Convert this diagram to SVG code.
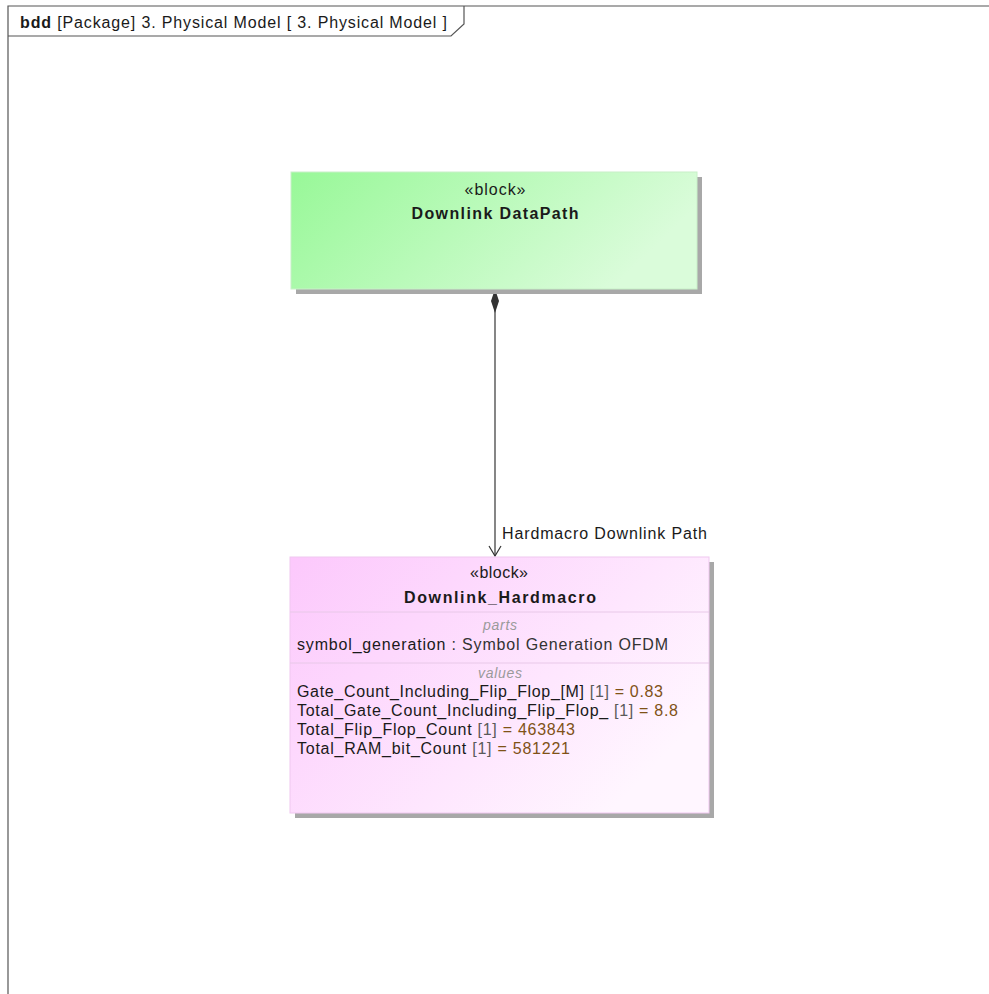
<svg xmlns="http://www.w3.org/2000/svg" width="989" height="994" viewBox="0 0 989 994">
  <style>
    .frame { fill: none; stroke: #555; stroke-width: 1.2; }
    .txt { font-family: "Liberation Sans", Arial, sans-serif; font-size: 16px; fill: #1a1a1a; }
    .bold { font-weight: bold; }
    .ctr { text-anchor: middle; }
    .comp { font-style: italic; fill: #9a9a9a; font-size: 14px; }
    .mult { fill: #5a5a5a; }
    .val { fill: #7f5217; }
    .shadow { fill: #a8a8a8; }
    .sep { stroke: #e8c8e8; stroke-width: 1; }
    .edge { stroke: #444; stroke-width: 1.3; fill: none; }
  </style>
  <defs>
    <linearGradient id="gGreen" x1="0" y1="0" x2="1" y2="0.3">
      <stop offset="0" stop-color="#98f898"/>
      <stop offset="1" stop-color="#dafcda"/>
    </linearGradient>
    <linearGradient id="gPink" x1="0" y1="0" x2="1" y2="0.6">
      <stop offset="0" stop-color="#fcc8fc"/>
      <stop offset="1" stop-color="#fff6ff"/>
    </linearGradient>
    <marker id="composite" markerWidth="10" markerHeight="26" refX="5" refY="1" orient="0" markerUnits="userSpaceOnUse">
      <path d="M5,1 L9,13 L5,25 L1,13 Z" fill="#333"/>
    </marker>
    <marker id="openArrow" markerWidth="14" markerHeight="12" refX="7" refY="11" orient="0" markerUnits="userSpaceOnUse">
      <path d="M1,1 L7,11 L13,1" fill="none" stroke="#333" stroke-width="1.2"/>
    </marker>
  </defs>

  <rect width="989" height="994" fill="#ffffff"/>

  <!-- diagram frame with name tab -->
  <g id="frame">
    <path class="frame" d="M8,994 L8,6 L989,6"/>
    <path class="frame" d="M8,36 L451,36 L464,24 L464,6"/>
    <text class="txt" x="20" y="28" textLength="427" lengthAdjust="spacing"><tspan class="bold">bdd</tspan> [Package] 3. Physical Model [ 3. Physical Model ]</text>
  </g>

  <!-- connectors -->
  <g id="connectors">
    <line class="edge" x1="495" y1="289" x2="495" y2="556" marker-start="url(#composite)" marker-end="url(#openArrow)"/>
    <text class="txt" x="502" y="539" textLength="205" lengthAdjust="spacing">Hardmacro Downlink Path</text>
  </g>

  <!-- block: Downlink DataPath -->
  <g id="downlink-datapath">
    <rect class="shadow" x="296" y="177" width="406" height="117"/>
    <rect x="291" y="172" width="406" height="117" fill="url(#gGreen)" stroke="#c8f0c8" stroke-width="1"/>
    <text class="txt ctr" x="495" y="195" textLength="61" lengthAdjust="spacing">«block»</text>
    <text class="txt ctr bold" x="495" y="219" textLength="167" lengthAdjust="spacing">Downlink DataPath</text>
  </g>

  <!-- block: Downlink_Hardmacro -->
  <g id="downlink-hardmacro">
    <rect class="shadow" x="295" y="562" width="419" height="256"/>
    <rect x="290" y="557" width="419" height="256" fill="url(#gPink)" stroke="#f0c8f0" stroke-width="1"/>
    <text class="txt ctr" x="499" y="578" textLength="58" lengthAdjust="spacing">«block»</text>
    <text class="txt ctr bold" x="500" y="603" textLength="192" lengthAdjust="spacing">Downlink_Hardmacro</text>
    <line class="sep" x1="290" y1="612" x2="709" y2="612"/>
    <text class="txt ctr comp" x="500" y="630" textLength="34" lengthAdjust="spacing">parts</text>
    <text class="txt" x="297" y="650" textLength="371" lengthAdjust="spacing">symbol_generation<tspan fill="#333"> : Symbol Generation OFDM</tspan></text>
    <line class="sep" x1="290" y1="663" x2="709" y2="663"/>
    <text class="txt ctr comp" x="500" y="678" textLength="44" lengthAdjust="spacing">values</text>
    <text class="txt" x="297" y="697" textLength="366" lengthAdjust="spacing">Gate_Count_Including_Flip_Flop_[M] <tspan class="mult">[1]</tspan><tspan class="val"> = 0.83</tspan></text>
    <text class="txt" x="297" y="716" textLength="381" lengthAdjust="spacing">Total_Gate_Count_Including_Flip_Flop_ <tspan class="mult">[1]</tspan><tspan class="val"> = 8.8</tspan></text>
    <text class="txt" x="297" y="735" textLength="278" lengthAdjust="spacing">Total_Flip_Flop_Count <tspan class="mult">[1]</tspan><tspan class="val"> = 463843</tspan></text>
    <text class="txt" x="297" y="754" textLength="273" lengthAdjust="spacing">Total_RAM_bit_Count <tspan class="mult">[1]</tspan><tspan class="val"> = 581221</tspan></text>
  </g>
</svg>
